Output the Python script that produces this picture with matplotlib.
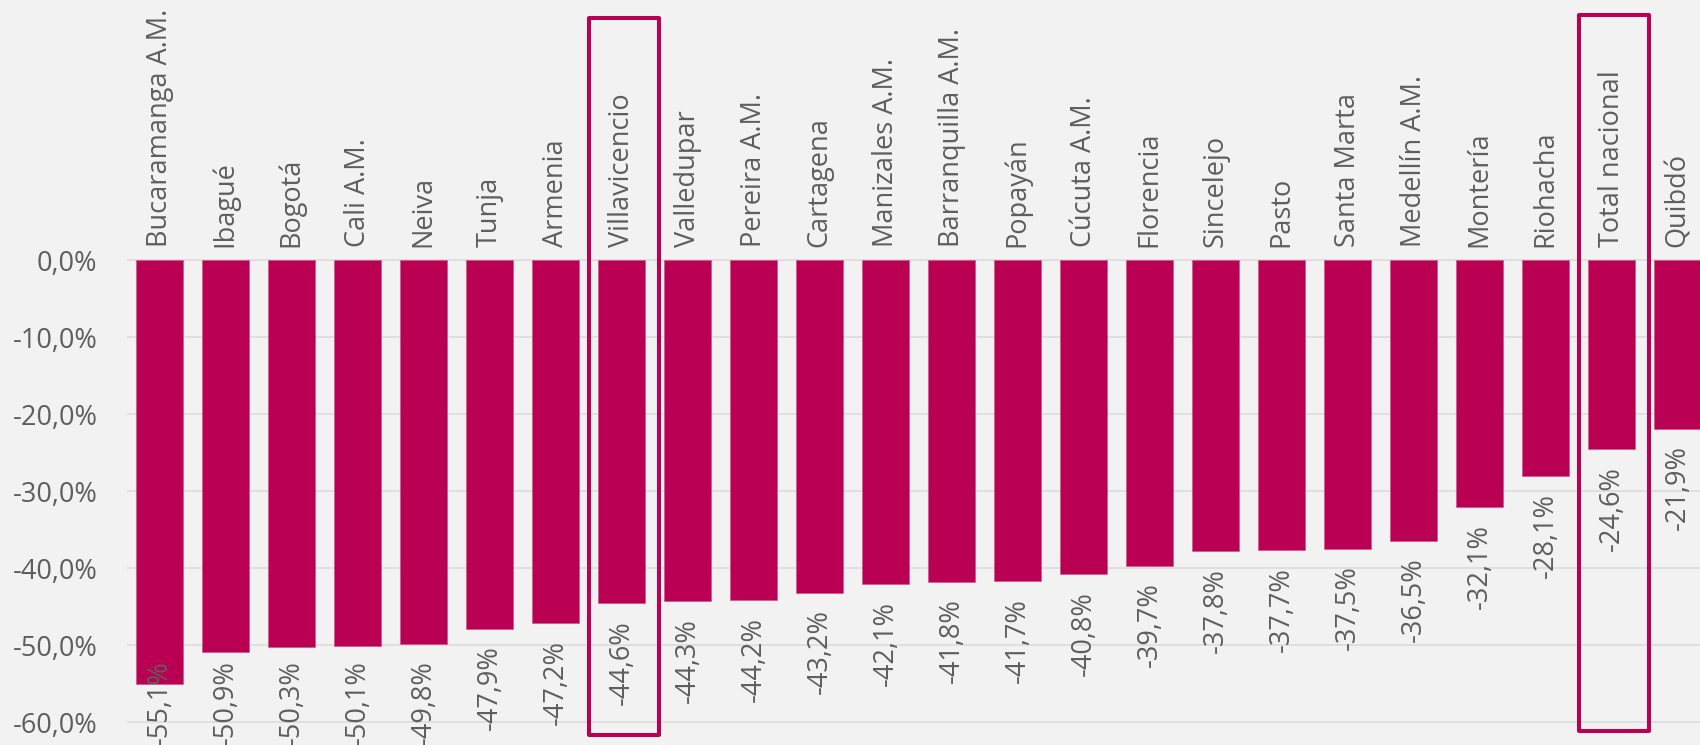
import matplotlib
matplotlib.use("Agg")
import matplotlib.pyplot as plt
from matplotlib.patches import Rectangle
from matplotlib.transforms import blended_transform_factory
from matplotlib.ticker import FuncFormatter

# Variación porcentual por ciudad
ciudades = [
    "Bucaramanga A.M.", "Ibagué", "Bogotá", "Cali A.M.", "Neiva", "Tunja",
    "Armenia", "Villavicencio", "Valledupar", "Pereira A.M.", "Cartagena",
    "Manizales A.M.", "Barranquilla A.M.", "Popayán", "Cúcuta A.M.",
    "Florencia", "Sincelejo", "Pasto", "Santa Marta", "Medellín A.M.",
    "Montería", "Riohacha", "Total nacional", "Quibdó",
]
variacion = [
    -55.1, -50.9, -50.3, -50.1, -49.8, -47.9, -47.2, -44.6, -44.3, -44.2,
    -43.2, -42.1, -41.8, -41.7, -40.8, -39.7, -37.8, -37.7, -37.5, -36.5,
    -32.1, -28.1, -24.6, -21.9,
]
resaltadas = ["Villavicencio", "Total nacional"]
y_ticks = [0, -10, -20, -30, -40, -50, -60]

BAR = "#BA0052"
BG = "#F2F2F2"
TXT = "#5E5E5E"
GRID = "#DADADA"
FONT = ["Open Sans", "DejaVu Sans"]
FS = 19.5

plt.rcParams["font.family"] = FONT

W, H, DPI = 1700, 745, 100
fig = plt.figure(figsize=(W / DPI, H / DPI), dpi=DPI, facecolor=BG)

ax_left = 126.6 / W
ax_top_px = 252.3
ax = fig.add_axes([ax_left, 0.0, 1.0 - ax_left, (H - ax_top_px) / H], facecolor=BG)

x = list(range(len(ciudades)))
ax.bar(x, variacion, width=0.71, color=BAR, edgecolor="#D24A86", linewidth=0.4, zorder=3)

ax.set_xlim(-0.5, -0.5 + (W - 126.6) / 66.0)
ax.set_ylim(-62.98, 1.0)

for s in ax.spines.values():
    s.set_visible(False)

ax.set_yticks(y_ticks)
ax.yaxis.set_major_formatter(FuncFormatter(lambda v, p: f"{v:.1f}".replace(".", ",").replace("-0,0", "0,0") + "%"))
ax.tick_params(axis="y", length=0, pad=21, labelsize=FS, labelcolor=TXT)
ax.yaxis.grid(True, color=GRID, linewidth=1.1, zorder=0)
ax.set_axisbelow(True)

ax.xaxis.tick_top()
ax.set_xticks(x)
ax.set_xticklabels(ciudades, rotation=90, fontsize=FS, color=TXT)
ax.tick_params(axis="x", length=0, pad=3.5)

# Etiquetas de valor bajo cada barra
labels = []
for xi, v in zip(x, variacion):
    t = ax.annotate(
        f"{v:.1f}".replace(".", ",") + "%",
        xy=(xi, v), xytext=(0, -12), textcoords="offset points",
        rotation=90, ha="center", va="top", fontsize=FS, color=TXT,
        annotation_clip=False, zorder=5,
    )
    labels.append(t)

fig.canvas.draw()
renderer = fig.canvas.get_renderer()
for t in labels:
    bb = t.get_window_extent(renderer)
    if bb.y0 < 0:
        dx, dy = t.xyann
        t.xyann = (dx, dy - bb.y0 * 72.0 / DPI)

# Recuadros de resaltado
trans = blended_transform_factory(ax.transData, fig.transFigure)
cajas = {"Villavicencio": (18, 735), "Total nacional": (15, 731)}
for nombre in resaltadas:
    i = ciudades.index(nombre)
    top_px, bot_px = cajas[nombre]
    y0 = 1 - bot_px / H
    y1 = 1 - top_px / H
    box = Rectangle(
        (i - 0.5, y0), 1.07, y1 - y0,
        transform=trans, fill=False, edgecolor=BAR, linewidth=2.9,
        joinstyle="round", clip_on=False, zorder=6,
    )
    fig.add_artist(box)

fig.savefig("out.png", dpi=DPI, facecolor=BG)
